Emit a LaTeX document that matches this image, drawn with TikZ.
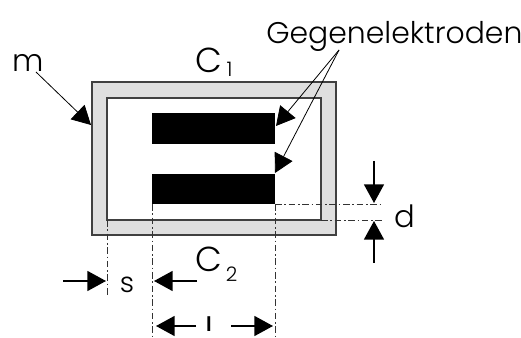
\documentclass[tikz,border=0pt]{standalone}
\usepackage{fontspec}
\setmainfont{Poppins Light}
\usetikzlibrary{arrows.meta}
\definecolor{rahmengrau}{HTML}{DFDFDF}
\definecolor{randgrau}{HTML}{404040}
\tikzset{
  bar/.style={fill=black,draw=none,inner sep=0pt,minimum width=92.25pt,minimum height=23pt},
  label/.style={inner sep=0pt,text=black,anchor=base,font=\fontsize{23}{23}\selectfont},
  thinarrow/.style={line width=0.6pt,-{Triangle[length=14pt,width=15pt]}},
  dimarrow/.style={line width=1.2pt,-{Triangle[length=14pt,width=15pt]}},
  helpline/.style={line width=0.6pt,dash pattern=on 5pt off 2pt on 1.2pt off 2pt,draw=black!80}
}
\newcommand{\subfont}{\fontsize{15}{15}\selectfont}
\begin{document}
\begin{tikzpicture}[x=0.75pt,y=-0.75pt]
\useasboundingbox (0,0) rectangle (521,338);

% Frame
\filldraw[fill=rahmengrau,draw=randgrau,line width=1pt] (92,82) rectangle (336,235);
\filldraw[fill=white,draw=randgrau,line width=1pt] (107,98) rectangle (321,220);

% Electrodes
\node[bar] (barupper) at (213.5,128.5) {};
\node[bar] (barlower) at (213.5,189) {};

% Labels
\node[label] (m) at (28,72) {m};
\node[label,anchor=base west,font=\fontsize{26}{26}\selectfont] (cone) at (195,73) {C\kern3.5pt\raisebox{-3pt}{\subfont 1}};
\node[label,anchor=base west,font=\fontsize{26}{26}\selectfont] (ctwo) at (195,272) {C\kern3pt\raisebox{-7.5pt}{\subfont 2}};
\node[label,anchor=base west,font=\fontsize{22.4}{22.4}\selectfont] (gegen) at (266,44) {Gegenelektroden};
\node[label] (dist) at (405,228) {d};
\node[label,font=\fontsize{21}{21}\selectfont] (gap) at (127,292) {s};
\node[label,font=\fontsize{15}{15}\selectfont\bfseries] (length) at (209,331) {l};

% Free ends of the arrows
\coordinate (mfoot) at (36,72);
\coordinate (mtip) at (91,125);
\coordinate (gegenfoot) at (339,50);
\coordinate (tipupper) at (276,126);
\coordinate (tiplower) at (275,173);

\coordinate (stailleft) at (63,281);
\coordinate (stipleft) at (106,281);
\coordinate (stailright) at (197,281);
\coordinate (stipright) at (154,281);
\coordinate (ltailleft) at (196,326);
\coordinate (ltipleft) at (156,326);
\coordinate (ltailright) at (231,326);
\coordinate (ltipright) at (273,326);
\coordinate (dtailtop) at (374,161);
\coordinate (dtiptop) at (374,203);
\coordinate (dtailbottom) at (374,263);
\coordinate (dtipbottom) at (374,221);

% Dash-dotted guides
\draw[helpline] (275,204) -- (383,204);
\draw[helpline] (321,220) -- (383,220);
\draw[helpline] (107,220) -- (107,295);
\draw[helpline] (152,204) -- (152,338);
\draw[helpline] (275,204) -- (275,338);

% Arrows
\draw[thinarrow] (mfoot) -- (mtip);
\draw[thinarrow] (gegenfoot) -- (tipupper);
\draw[thinarrow] (gegenfoot) -- (tiplower);
\draw[dimarrow] (stailleft) -- (stipleft);
\draw[dimarrow] (stailright) -- (stipright);
\draw[dimarrow] (ltailleft) -- (ltipleft);
\draw[dimarrow] (ltailright) -- (ltipright);
\draw[dimarrow] (dtailtop) -- (dtiptop);
\draw[dimarrow] (dtailbottom) -- (dtipbottom);
\end{tikzpicture}
\end{document}
